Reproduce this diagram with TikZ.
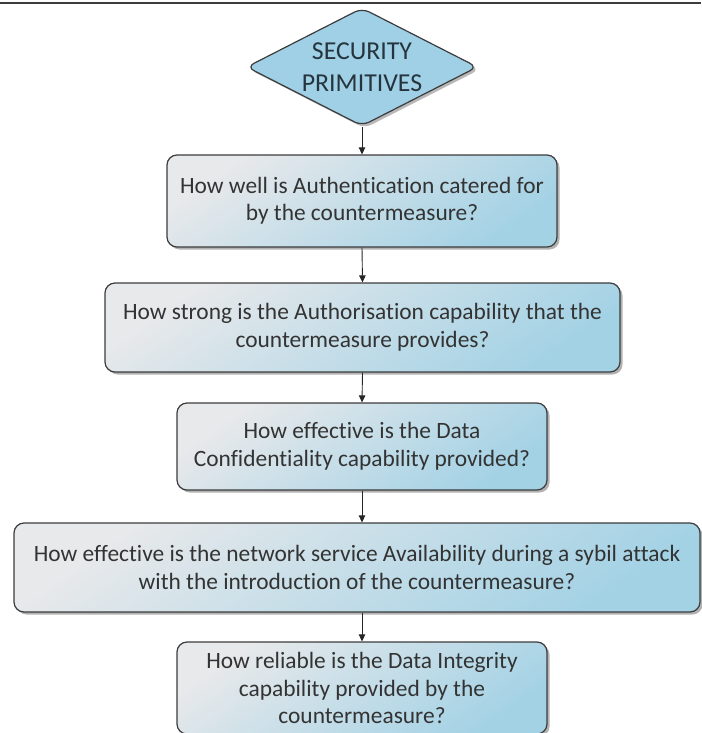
\documentclass[tikz,border=0pt]{standalone}
\usepackage{fontspec}
\setmainfont{Carlito}[Ligatures=NoCommon]
\usetikzlibrary{shapes.geometric,arrows.meta,shadows}

\definecolor{edgegray}{HTML}{3C3C3C}
\definecolor{textgray}{HTML}{333333}
\definecolor{boxtop}{HTML}{E8E9EB}
\definecolor{boxmid}{HTML}{DDE3E7}
\definecolor{boxbot}{HTML}{A3D2E5}
\definecolor{diafill}{HTML}{9FD0E6}
\definecolor{diatext}{HTML}{26343D}

\tikzset{
  question/.style={
    draw=edgegray, line width=1.2pt, rounded corners=10pt,
    top color=boxtop, middle color=boxmid, bottom color=boxbot,
    shading angle=35,
    drop shadow={shadow xshift=2.5pt, shadow yshift=-2.5pt, fill=black!55, opacity=0.55},
    align=center, text=textgray, inner sep=0pt,
    font=\fontsize{23.4}{27.5}\selectfont
  },
  startdia/.style={
    diamond, aspect=1.95, draw=edgegray, line width=1.2pt, rounded corners=8pt,
    fill=diafill, text=diatext, align=center, inner sep=0pt,
    minimum width=231pt, minimum height=118pt,
    drop shadow={shadow xshift=2.5pt, shadow yshift=-2.5pt, fill=black!55, opacity=0.5},
    font=\fontsize{25.8}{32}\selectfont
  },
  flow/.style={draw=black!85, line width=0.9pt, -{Triangle[length=7pt,width=6.5pt]}}
}

\begin{document}
\begin{tikzpicture}[x=1pt, y=-1pt]
  \useasboundingbox (0,0) rectangle (701,733);
  % heading rule
  \draw[edgegray, line width=2pt] (0,3) -- (701,3);

  \node[startdia] (prim) at (362,67) {SECURITY\\PRIMITIVES};

  \node[question, minimum width=390pt, minimum height=92pt] (authn) at (362,201)
    {How well is Authentication catered for\\by the countermeasure?};
  \node[question, minimum width=515pt, minimum height=89pt] (authz) at (362.5,327.5)
    {How strong is the Authorisation capability that the\\countermeasure provides?};
  \node[question, minimum width=370pt, minimum height=87pt] (conf) at (362,446.5)
    {How effective is the Data\\Confidentiality capability provided?};
  \node[question, minimum width=686pt, minimum height=89pt] (avail) at (357,567.5)
    {How effective is the network service Availability during a sybil attack\\with the introduction of the countermeasure?};
  \node[question, minimum width=370pt, minimum height=92pt] (integ) at (362,688)
    {How reliable is the Data Integrity\\capability provided by the\\countermeasure?};

  \draw[flow] (prim.south) -- (authn.north);
  \draw[flow] (authn.south) -- (authz.north);
  \draw[flow] (authz.south) -- (conf.north);
  \draw[flow] (conf.south) -- (avail.north -| conf.south);
  \draw[flow] (avail.south -| integ.north) -- (integ.north);
\end{tikzpicture}
\end{document}
